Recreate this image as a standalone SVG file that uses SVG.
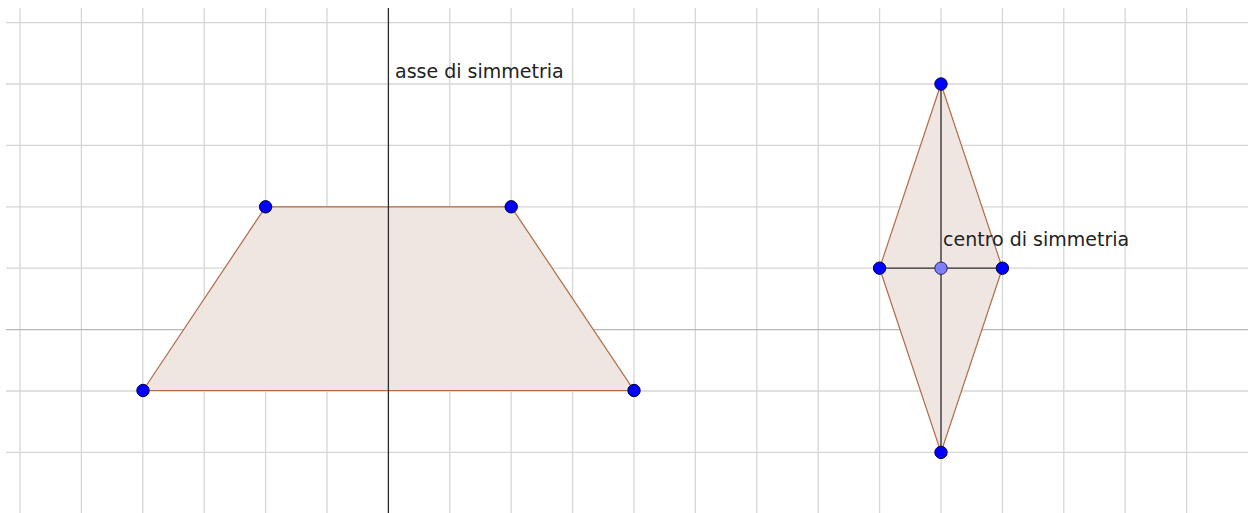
<svg xmlns="http://www.w3.org/2000/svg" width="1254" height="513" viewBox="0 0 1254 513">
<style>
.g{stroke:#d6d6d6;stroke-width:1.3;fill:none}
.ax{stroke:#2a2a2a;stroke-width:1.3;fill:none}
.poly{fill:#efe6e1;stroke:#b06a45;stroke-width:1.2}
.pt{fill:#0000ff;stroke:#000044;stroke-width:1}
.pc{fill:#7f7fff;stroke:#222255;stroke-width:1}
.lbl{font-family:"DejaVu Sans",sans-serif;font-size:19px;fill:#222}
</style>
<rect width="1254" height="513" fill="#fff"/>
<g id="grid">
<path class="g" d="M20,8V513M81.4,8V513M142.8,8V513M204.2,8V513M265.6,8V513M327,8V513M449.8,8V513M511.2,8V513M572.6,8V513M634,8V513M695.4,8V513M756.8,8V513M818.2,8V513M879.6,8V513M941,8V513M1002.4,8V513M1063.8,8V513M1125.2,8V513M1186.6,8V513"/>
<path class="g" d="M6,22.6H1248M6,84H1248M6,145.4H1248M6,206.8H1248M6,268.2H1248M6,391H1248M6,452.4H1248"/>
<path d="M6,329.6H1248" stroke="#b8b8b8" stroke-width="1.3"/>
</g>
<g id="trapezio">
<polygon class="poly" points="143,390.5 265.6,206.8 511.2,206.8 634,390.5"/>
</g>
<g id="rombo">
<polygon class="poly" points="941,84 1002.4,268.2 941,452.4 879.6,268.2"/>
</g>
<g id="connectors">
<line class="ax" x1="388.4" y1="8" x2="388.4" y2="513"/>
<line class="ax" x1="941" y1="84" x2="941" y2="452.4"/>
<line class="ax" x1="879.6" y1="268.2" x2="1002.4" y2="268.2"/>
</g>
<g id="punti">
<circle class="pt" cx="143" cy="390.5" r="6.2"/>
<circle class="pt" cx="265.6" cy="206.8" r="6.2"/>
<circle class="pt" cx="511.2" cy="206.8" r="6.2"/>
<circle class="pt" cx="634" cy="390.5" r="6.2"/>
<circle class="pt" cx="941" cy="84" r="6.2"/>
<circle class="pt" cx="879.6" cy="268.2" r="6.2"/>
<circle class="pt" cx="1002.4" cy="268.2" r="6.2"/>
<circle class="pt" cx="941" cy="452.4" r="6.2"/>
<circle class="pc" cx="941" cy="268.2" r="6.2"/>
</g>
<g id="etichette">
<text class="lbl" x="395" y="78">asse di simmetria</text>
<text class="lbl" x="943" y="246">centro di simmetria</text>
</g>
</svg>
